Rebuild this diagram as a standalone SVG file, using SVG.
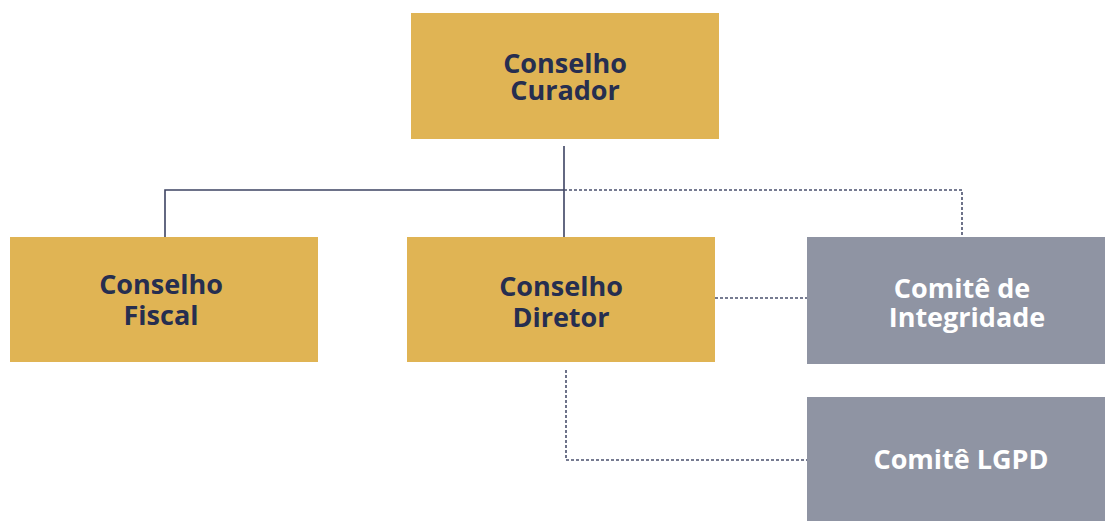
<svg xmlns="http://www.w3.org/2000/svg" width="1105" height="521" viewBox="0 0 1105 521">
<style>
.gold{fill:#E0B454}
.gray{fill:#8F94A3}
.t{font-family:"Open Sans","DejaVu Sans",sans-serif;font-weight:bold;font-size:27px;text-anchor:middle}
.dk{fill:#262E50}
.wt{fill:#FFFFFF}
.solid{stroke:#3E4463;stroke-width:1.6;fill:none}
.dash{stroke:#4A506D;stroke-width:1.6;fill:none;stroke-dasharray:3 2}
</style>
<rect width="1105" height="521" fill="#FFFFFF"/>
<g id="connectors">
<path class="solid" d="M564 146V237M165 237V190H564"/>
<path class="dash" d="M564 190H962V237"/>
<path class="dash" d="M715 298H807"/>
<path class="dash" d="M566 370V460H813"/>
</g>
<g id="curador">
<rect class="gold" x="411" y="13" width="308" height="126"/>
<text class="t dk" x="565" y="73">Conselho</text>
<text class="t dk" x="565" y="100">Curador</text>
</g>
<g id="fiscal">
<rect class="gold" x="10" y="237" width="308" height="125"/>
<text class="t dk" x="161" y="294">Conselho</text>
<text class="t dk" x="161" y="325">Fiscal</text>
</g>
<g id="diretor">
<rect class="gold" x="407" y="237" width="308" height="125"/>
<text class="t dk" x="561" y="296">Conselho</text>
<text class="t dk" x="561" y="327">Diretor</text>
</g>
<g id="integridade">
<rect class="gray" x="807" y="237" width="298" height="127"/>
<text class="t wt" x="962" y="298">Comitê de</text>
<text class="t wt" x="967" y="327">Integridade</text>
</g>
<g id="lgpd">
<rect class="gray" x="807" y="397" width="298" height="124"/>
<text class="t wt" x="961" y="469">Comitê LGPD</text>
</g>
</svg>
